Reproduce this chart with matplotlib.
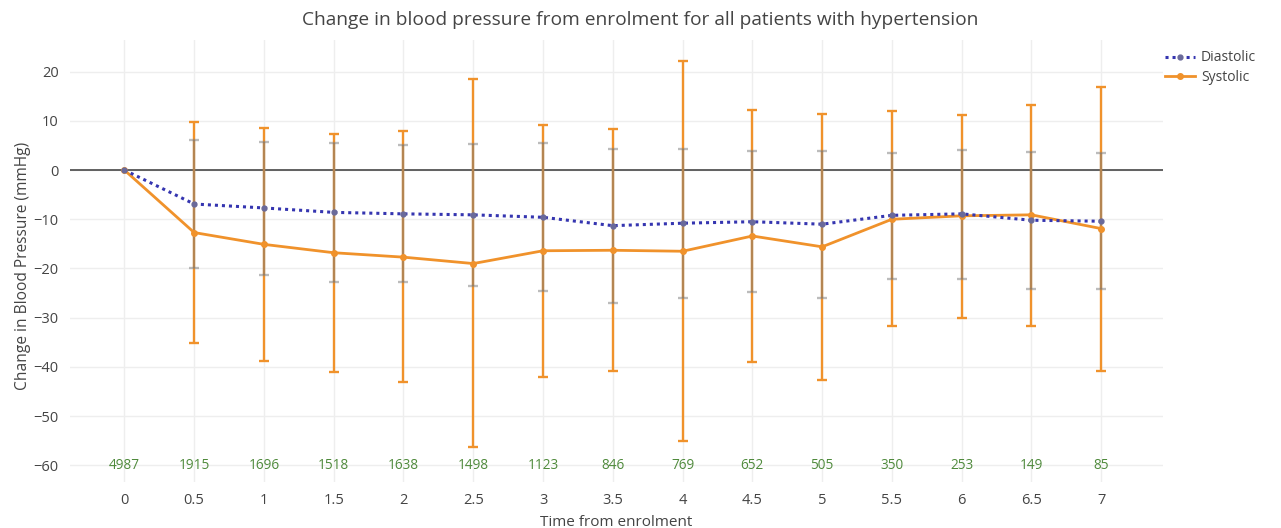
import numpy as np
import matplotlib.pyplot as plt

plt.rcParams['font.family'] = ['Open Sans', 'DejaVu Sans']

# data
time = [0, 0.5, 1, 1.5, 2, 2.5, 3, 3.5, 4, 4.5, 5, 5.5, 6, 6.5, 7]
counts = [4987, 1915, 1696, 1518, 1638, 1498, 1123, 846, 769, 652, 505, 350, 253, 149, 85]

dia = [0, -6.9, -7.7, -8.6, -8.9, -9.1, -9.6, -11.3, -10.8, -10.5, -11.0, -9.2, -8.9, -10.2, -10.4]
dia_hi = [0, 6.2, 5.8, 5.4, 5.0, 5.3, 5.5, 4.3, 4.3, 3.8, 3.9, 3.5, 4.1, 3.7, 3.5]
dia_lo = [0, -20.0, -21.3, -22.7, -22.8, -23.6, -24.5, -27.1, -26.0, -24.8, -26.1, -22.2, -22.2, -24.2, -24.2]

sys_ = [0, -12.7, -15.1, -16.8, -17.7, -19.0, -16.4, -16.3, -16.5, -13.4, -15.6, -10.0, -9.3, -9.1, -11.9]
sys_hi = [0, 9.8, 8.5, 7.3, 7.9, 18.6, 9.2, 8.3, 22.1, 12.3, 11.3, 11.9, 11.1, 13.2, 16.9]
sys_lo = [0, -35.2, -38.8, -41.0, -43.1, -56.3, -42.0, -40.8, -55.1, -39.0, -42.7, -31.7, -30.1, -31.6, -40.8]

orange = '#f0922b'
blue = '#3535b0'
grey = '#7a7a7a'

fig = plt.figure(figsize=(12.81, 5.28), dpi=100)
ax = fig.add_axes([0.0546, 0.087, 0.853, 0.837])

t = np.array(time)
s = np.array(sys_)
d = np.array(dia)
s_err = [s - np.array(sys_lo), np.array(sys_hi) - s]
d_err = [d - np.array(dia_lo), np.array(dia_hi) - d]

# systolic error bars (skip t=0)
ax.errorbar(t[1:], s[1:], yerr=[e[1:] for e in s_err], fmt='none', ecolor=orange,
            elinewidth=1.7, capsize=3.5, capthick=1.7, zorder=3)
# diastolic error bars
ax.errorbar(t[1:], d[1:], yerr=[e[1:] for e in d_err], fmt='none', ecolor=grey,
            elinewidth=1.7, capsize=3.5, capthick=1.7, alpha=0.5, zorder=4)

ax.plot(t, s, color=orange, lw=2, marker='o', ms=4, zorder=5, label='Systolic')
ax.plot(t, d, color=blue, lw=2.2, ls=(0, (1, 1.3)), marker='o', ms=3.5,
        mfc='#6a6a9a', mec='#6a6a9a', zorder=6, label='Diastolic')

ax.axhline(0, color='#555555', lw=1.3, zorder=2)

for x, n in zip(time, counts):
    ax.text(x, -60, str(n), color='#4f8a3c', ha='center', va='center', fontsize=9.8)

ax.set_xlim(-0.39, 7.44)
ax.set_ylim(-63.4, 26.4)
ax.set_xticks(time)
ax.set_xticklabels([f'{v:g}' for v in time])
ax.set_yticks(range(-60, 21, 10))
ax.set_yticklabels([f'{v}'.replace('-', '\u2212') for v in range(-60, 21, 10)])
ax.grid(True, color='#eeeeee', lw=1)
ax.set_axisbelow(True)
for sp in ax.spines.values():
    sp.set_visible(False)
ax.tick_params(length=0, labelsize=10.5, labelcolor='#444444', pad=8)

ax.set_xlabel('Time from enrolment', fontsize=11, color='#444444', labelpad=5)
ax.set_ylabel('Change in Blood Pressure (mmHg)', fontsize=11.2, color='#444444', labelpad=2)
ax.yaxis.set_label_coords(-0.036, 0.49)
fig.suptitle('Change in blood pressure from enrolment for all patients with hypertension',
             x=0.5, y=0.98, fontsize=13.8, color='#444444')

h, l = ax.get_legend_handles_labels()
fig.legend(h[::-1], l[::-1], loc='upper left', bbox_to_anchor=(0.905, 0.915), frameon=False,
           fontsize=10, labelcolor='#444444', handlelength=2.2, handletextpad=0.4,
           borderaxespad=0, labelspacing=0.3)

fig.savefig('out.png', dpi=100)
